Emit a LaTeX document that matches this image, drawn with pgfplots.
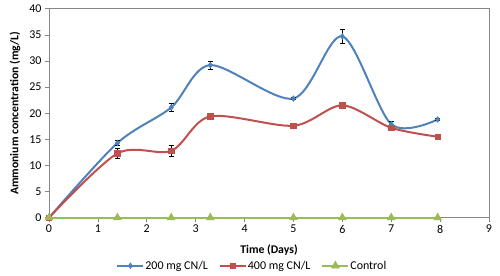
\documentclass[border=0pt]{standalone}
\usepackage{pgfplots}
\pgfplotsset{compat=1.18}
\usepackage{fontspec}
\setmainfont{Carlito}
\definecolor{xblue}{HTML}{4F81BD}
\definecolor{xred}{HTML}{C0504D}
\definecolor{xgreen}{HTML}{9BBB59}
\definecolor{xgray}{HTML}{868686}
\begin{document}
\begin{tikzpicture}
\begin{axis}[
  scale only axis,
  width=440bp, height=209bp,
  xmin=0, xmax=9, ymin=0, ymax=40,
  xtick={0,...,9}, ytick={0,5,...,40},
  /pgf/number format/assume math mode=true,
  tick label style={font=\fontsize{12}{13}\selectfont},
  tick align=outside,
  major tick length=4bp,
  xtick pos=bottom, ytick pos=left,
  tick style={xgray, line width=0.6pt},
  axis line style={xgray, line width=0.6pt},
  xlabel={\textbf{Time (Days)}},
  ylabel={\textbf{Ammonium concentration (mg/L)}},
  label style={font=\fontsize{11.8}{13}\selectfont},
  xlabel style={at={(0.5,-0.155)}, anchor=center},
  ylabel style={at={(-0.077,0.5)}, anchor=center},
  legend style={at={(0.461,-0.23)}, anchor=center, draw=none, font=\fontsize{12}{13}\selectfont,
    inner sep=0pt,
    /tikz/every even column/.append style={column sep=10bp},
    nodes={inner xsep=1pt}},
  legend columns=3,
  legend image code/.code={
    \draw[#1, line width=2pt] (0bp,0bp) -- (26bp,0bp);
    \draw[#1, mark repeat=1] plot coordinates {(13bp,0bp)};
  },
  clip=false,
]
\addplot[xblue, line width=2pt, smooth, tension=0.5, mark=diamond*, mark size=2.8pt,
  mark options={solid, line width=0.6pt},
  error bars/.cd, y dir=both, y explicit, error bar style={black, line width=0.5pt}, error mark options={rotate=90, mark size=2.5pt, black, line width=0.5pt}]
  coordinates {
  (0,0) +- (0,0)
  (1.4,14.3) +- (0,0.5)
  (2.5,21.1) +- (0,0.8)
  (3.3,29.2) +- (0,0.8)
  (5,22.8) +- (0,0.2)
  (6,34.7) +- (0,1.4)
  (7,17.9) +- (0,0.5)
  (7.95,18.8) +- (0,0.2)
  };
\addlegendentry{200 mg CN/L}
\addplot[xred, line width=2pt, smooth, tension=0.5, mark=square*, mark size=2.7pt,
  mark options={solid, line width=0.6pt},
  error bars/.cd, y dir=both, y explicit, error bar style={black, line width=0.5pt}, error mark options={rotate=90, mark size=2.5pt, black, line width=0.5pt}]
  coordinates {
  (0,0) +- (0,0)
  (1.4,12.3) +- (0,1.0)
  (2.5,12.8) +- (0,1.0)
  (3.3,19.4) +- (0,0.5)
  (5,17.6) +- (0,0.3)
  (6,21.5) +- (0,0.4)
  (7,17.2) +- (0,0.4)
  (7.95,15.5) +- (0,0.2)
  };
\addlegendentry{400 mg CN/L}
\addplot[xgreen, line width=2pt, mark=triangle*, mark size=4.5pt, mark options={solid, line width=0.6pt}]
  coordinates {(0,0) (1.4,0) (2.5,0) (3.3,0) (5,0) (6,0) (7,0) (7.95,0)};
\addlegendentry{Control}
\path (rel axis cs:0,0) ++(-49bp,-58.3bp) coordinate (bbsw);
\path (rel axis cs:1,1) ++(11bp,8.7bp) coordinate (bbne);
\path[use as bounding box] (bbsw) rectangle (bbne);
\end{axis}
\end{tikzpicture}
\end{document}
